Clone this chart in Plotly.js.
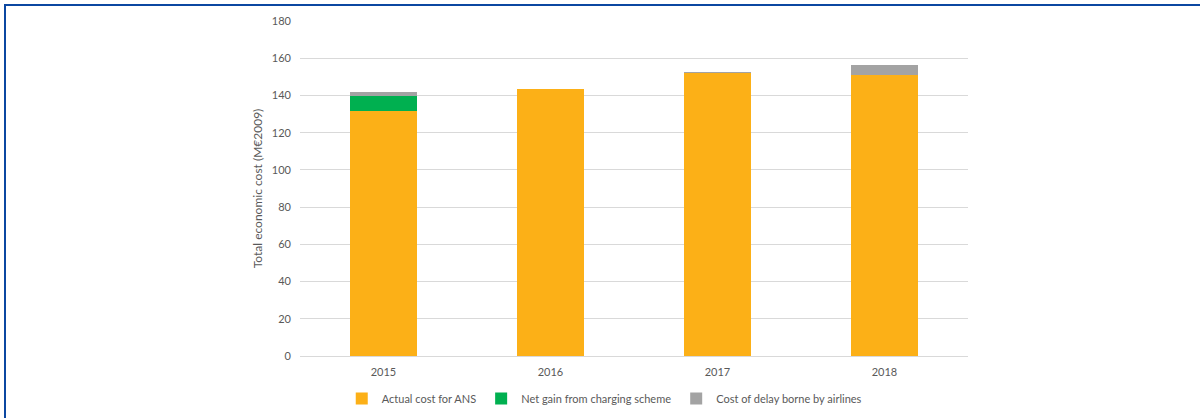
<!DOCTYPE html>
<html>
<head>
<meta charset="utf-8">
<script src="https://cdn.plot.ly/plotly-3.0.1.min.js"></script>
<style>
  html, body { margin: 0; padding: 0; background: #fff; }
  #wrap { position: relative; width: 1200px; height: 418px; overflow: hidden; }
  #chart { width: 1200px; height: 418px; }
  #frame { position: absolute; left: 4px; top: 4px; width: 1196px; height: 414px;
           border-top: 2px solid #0b47a1; border-left: 2px solid #0b47a1;
           pointer-events: none; box-sizing: border-box; }
</style>
</head>
<body>
<div id="wrap">
  <div id="chart"></div>
  <div id="frame"></div>
</div>
<script>
const years = ['2015', '2016', '2017', '2018'];
const actualCostANS = [131.8, 143.7, 152.1, 151.0];
const netGainCharging = [8.1, null, null, null];
const delayCostAirlines = [2.1, null, 0.5, 5.2];
const yTicks = [0, 20, 40, 60, 80, 100, 120, 140, 160, 180];

const font = 'Lato, "Open Sans", "Liberation Sans", sans-serif';
const textColor = '#595959';

const traces = [
  { type: 'bar', name: 'Actual cost for ANS', x: years, y: actualCostANS,
    marker: { color: '#FCB017', line: { width: 0 } } },
  { type: 'bar', name: 'Net gain from charging scheme', x: years, y: netGainCharging,
    marker: { color: '#00B050', line: { width: 0 } } },
  { type: 'bar', name: 'Cost of delay borne by airlines', x: years, y: delayCostAirlines,
    marker: { color: '#A3A3A3', line: { width: 0 } } }
];

const layout = {
  width: 1200, height: 418,
  paper_bgcolor: '#ffffff', plot_bgcolor: '#ffffff',
  margin: { l: 300, r: 232, t: 21, b: 62, pad: 0, autoexpand: false },
  barmode: 'stack',
  bargap: 0.595,
  font: { family: font, size: 11, color: textColor },
  hovermode: false,
  xaxis: {
    type: 'category',
    showgrid: false, showline: true, linecolor: '#d9d9d9', linewidth: 1,
    ticks: '', ticklabelstandoff: 6,
    tickfont: { family: font, size: 11, color: textColor },
    automargin: false, fixedrange: true
  },
  yaxis: {
    range: [0, 180], tickvals: yTicks, ticktext: yTicks.map(String),
    showgrid: true, gridcolor: '#d9d9d9', gridwidth: 1,
    zeroline: true, zerolinecolor: '#d9d9d9', zerolinewidth: 1,
    showline: false, ticks: '', ticklabelstandoff: 8,
    tickfont: { family: font, size: 11, color: textColor },
    title: { text: 'Total economic cost (M€2009)', standoff: 6,
             font: { family: font, size: 12, color: textColor } },
    automargin: false, fixedrange: true
  },
  showlegend: true,
  legend: {
    orientation: 'h', x: 0.0625, xanchor: 'left', y: -0.0836, yanchor: 'top',
    font: { family: font, size: 11, color: textColor },
    itemwidth: 30, traceorder: 'normal', bgcolor: 'rgba(0,0,0,0)'
  }
};

Plotly.newPlot('chart', traces, layout, { staticPlot: true, displayModeBar: false });
</script>
</body>
</html>
